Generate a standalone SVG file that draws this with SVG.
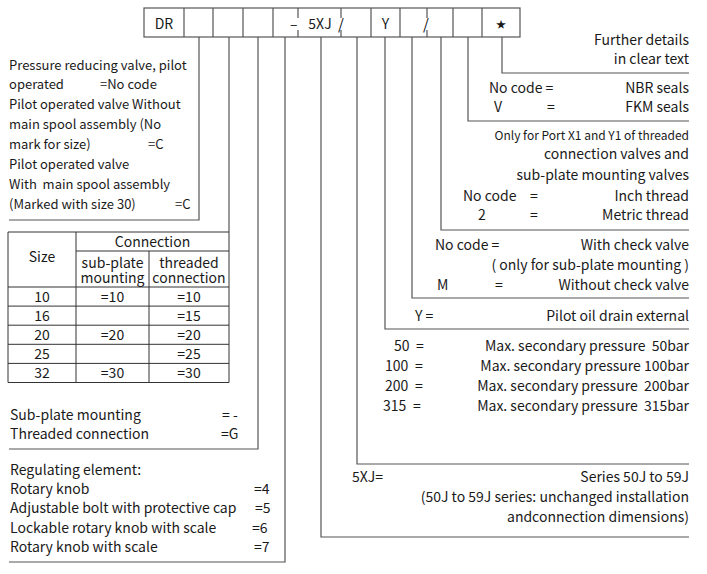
<svg xmlns="http://www.w3.org/2000/svg" width="707" height="574" viewBox="0 0 707 574">
<style>
text{font-family:"Noto Sans CJK SC","Noto Sans",sans-serif;font-size:14px;fill:#1a1a1a}
.r{text-anchor:end}
.c{text-anchor:middle}
.sm{font-size:12px}
.md{font-size:13px}
.sl{font-size:15px;fill:#111}
.ln{stroke:#555;stroke-width:1.2;fill:none}
.tb{stroke:#333;stroke-width:1;fill:none}
</style>
<rect width="707" height="574" fill="#fff"/>

<g id="code-row">
<rect x="144" y="8" width="376" height="29" class="ln"/>
<path class="ln" d="M184,8V37M213,8V37M243,8V37M273,8V37M371,8V37M400,8V37M453,8V37M482,8V37M298,8V18M298,30V37M341,8V18M341,30V37M427,8V18M427,30V37"/>
<text x="164" y="29" class="c">DR</text>
<text x="297.5" y="29" class="r">–</text>
<text x="320" y="29" class="c">5XJ</text>
<text x="341" y="30" class="c sl">/</text>
<text x="385.5" y="29" class="c">Y</text>
<text x="426" y="30" class="c sl">/</text>
<text x="501" y="28" class="c" style="font-size:10px">★</text>
</g>

<g id="connectors">
<path class="ln" d="M199,37V220H9"/>
<path class="ln" d="M229,37V232"/>
<path class="ln" d="M258,37V449H9"/>
<path class="ln" d="M285,37V562H9"/>
<path class="ln" d="M321,37V537H689"/>
<path class="ln" d="M357,37V464H689"/>
<path class="ln" d="M385,37V329H689"/>
<path class="ln" d="M412,37V298H689"/>
<path class="ln" d="M441,37V230H689"/>
<path class="ln" d="M468,37V121H689"/>
<path class="ln" d="M502,37V73H689"/>
</g>

<g id="valve-type">
<text x="9" y="70" class="md">Pressure reducing valve, pilot</text>
<text x="9" y="89" class="md">operated<tspan x="100">=No code</tspan></text>
<text x="9" y="109" class="md">Pilot operated valve Without</text>
<text x="9" y="129" class="md">main spool assembly (No</text>
<text x="9" y="149" class="md">mark for size)<tspan x="148">=C</tspan></text>
<text x="9" y="169" class="md">Pilot operated valve</text>
<text x="9" y="189" class="md" xml:space="preserve">With  main spool assembly</text>
<text x="9" y="209" class="md">(Marked with size 30)<tspan x="175">=C</tspan></text>
</g>

<g id="size-table">
<path class="tb" d="M8,232H229V382.5H8ZM76,232V382.5M149,251V382.5M76,251H229M8,287H229M8,306.1H229M8,325.2H229M8,344.3H229M8,363.4H229"/>
<text x="42" y="262" class="c">Size</text>
<text x="152.5" y="247" class="c">Connection</text>
<text x="112.5" y="268" class="c">sub-plate</text>
<text x="112.5" y="283" class="c">mounting</text>
<text x="189" y="268" class="c">threaded</text>
<text x="189" y="283" class="c">connection</text>
<text x="42" y="301.5" class="c">10</text><text x="112.5" y="301.5" class="c">=10</text><text x="189" y="301.5" class="c">=10</text>
<text x="42" y="320.6" class="c">16</text><text x="189" y="320.6" class="c">=15</text>
<text x="42" y="339.7" class="c">20</text><text x="112.5" y="339.7" class="c">=20</text><text x="189" y="339.7" class="c">=20</text>
<text x="42" y="358.8" class="c">25</text><text x="189" y="358.8" class="c">=25</text>
<text x="42" y="378" class="c">32</text><text x="112.5" y="378" class="c">=30</text><text x="189" y="378" class="c">=30</text>
</g>

<g id="connection-type">
<text x="10" y="420">Sub-plate mounting<tspan x="222">= -</tspan></text>
<text x="10" y="439">Threaded connection<tspan x="221">=G</tspan></text>
</g>

<g id="regulating-element">
<text x="10" y="475">Regulating element:</text>
<text x="10" y="494">Rotary knob<tspan x="254">=4</tspan></text>
<text x="10" y="513">Adjustable bolt with protective cap<tspan x="255">=5</tspan></text>
<text x="10" y="533">Lockable rotary knob with scale<tspan x="252">=6</tspan></text>
<text x="10" y="552">Rotary knob with scale<tspan x="254">=7</tspan></text>
</g>

<g id="further-details">
<text x="689" y="45" class="r">Further details</text>
<text x="689" y="64" class="r">in clear text</text>
</g>

<g id="seals">
<text x="489" y="93">No code =</text><text x="689" y="93" class="r">NBR seals</text>
<text x="494" y="112">V<tspan x="547">=</tspan></text><text x="689" y="112" class="r">FKM seals</text>
</g>

<g id="thread">
<text x="689" y="139.5" class="r sm">Only for Port X1 and Y1 of threaded</text>
<text x="689" y="159" class="r">connection valves and</text>
<text x="689" y="180" class="r">sub-plate mounting valves</text>
<text x="463" y="201">No code<tspan x="530">=</tspan></text><text x="689" y="201" class="r">Inch thread</text>
<text x="478" y="220">2<tspan x="530">=</tspan></text><text x="689" y="220" class="r">Metric thread</text>
</g>

<g id="check-valve">
<text x="435" y="250">No code =</text><text x="689" y="250" class="r">With check valve</text>
<text x="689" y="270" class="r">( only for sub-plate mounting )</text>
<text x="437" y="290">M<tspan x="495">=</tspan></text><text x="689" y="290" class="r">Without check valve</text>
</g>

<g id="pilot-drain">
<text x="415" y="321">Y =</text><text x="689" y="321" class="r">Pilot oil drain external</text>
</g>

<g id="pressure">
<text x="394" y="351">50<tspan x="416">=</tspan></text><text x="689" y="351" class="r" xml:space="preserve">Max. secondary pressure  50bar</text>
<text x="385" y="371">100<tspan x="415">=</tspan></text><text x="689" y="371" class="r">Max. secondary pressure 100bar</text>
<text x="385" y="391">200<tspan x="415">=</tspan></text><text x="689" y="391" class="r" xml:space="preserve">Max. secondary pressure  200bar</text>
<text x="383" y="411">315<tspan x="413">=</tspan></text><text x="689" y="411" class="r" xml:space="preserve">Max. secondary pressure  315bar</text>
</g>

<g id="series">
<text x="352" y="482">5XJ=</text><text x="689" y="482" class="r">Series 50J to 59J</text>
<text x="689" y="502" class="r">(50J to 59J series: unchanged installation</text>
<text x="689" y="522" class="r">andconnection dimensions)</text>
</g>
</svg>
